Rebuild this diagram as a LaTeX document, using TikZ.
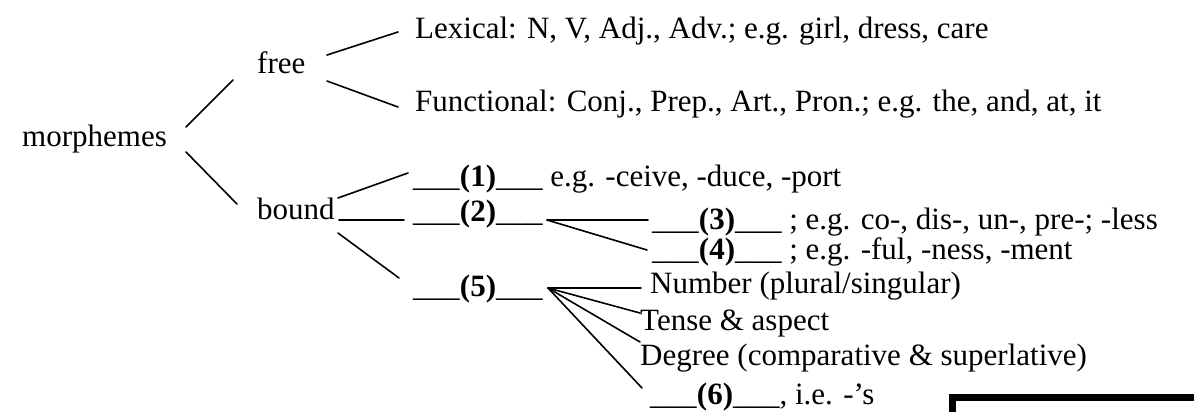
\documentclass[tikz,border=0pt]{standalone}
\usepackage{fontspec}
\setmainfont{Liberation Serif}
\begin{document}
\begin{tikzpicture}[x=1bp,y=-1bp,
  lbl/.style={anchor=base west, inner sep=0pt, font=\fontsize{31bp}{36bp}\selectfont},
  conn/.style={line width=1.6bp, line cap=round},
  frame/.style={line width=7bp}]
\useasboundingbox (0,0) rectangle (1194,412);
% text nodes
\node[lbl] (morph) at (22,146) {morphemes};
\node[lbl] (free) at (257,73) {free};
\node[lbl] (bound) at (257,219) {bound};
\node[lbl] (lex) at (415,38) {Lexical: N, V, Adj., Adv.; e.g. girl, dress, care};
\node[lbl] (fun) at (415,111) {Functional: Conj., Prep., Art., Pron.; e.g. the, and, at, it};
\node[lbl] (n1) at (413,186) {\_\_\_\textbf{(1)}\_\_\_ e.g. -ceive, -duce, -port};
\node[lbl] (n2) at (413,221) {\_\_\_\textbf{(2)}\_\_\_};
\node[lbl] (n3) at (652,229) {\_\_\_\textbf{(3)}\_\_\_ ; e.g. co-, dis-, un-, pre-; -less};
\node[lbl] (n4) at (652,259) {\_\_\_\textbf{(4)}\_\_\_ ; e.g. -ful, -ness, -ment};
\node[lbl] (n5) at (413,296) {\_\_\_\textbf{(5)}\_\_\_};
\node[lbl] (num) at (650,293) {Number (plural/singular)};
\node[lbl] (tense) at (640,330) {Tense \& aspect};
\node[lbl] (deg) at (640,365) {Degree (comparative \& superlative)};
\node[lbl] (n6) at (650,404) {\_\_\_\textbf{(6)}\_\_\_, i.e. -’s};
% connector end points
\coordinate (mA) at (186,127); \coordinate (fL) at (233,80);
\coordinate (mB) at (186,152); \coordinate (bL) at (237,204);
\coordinate (fA) at (327,55);  \coordinate (lexL) at (398,32);
\coordinate (fB) at (327,81);  \coordinate (funL) at (398,107);
\coordinate (bA) at (338,198); \coordinate (n1L) at (408,173);
\coordinate (bB) at (339,220); \coordinate (n2L) at (404,220);
\coordinate (bC) at (338,233); \coordinate (n5L) at (399,278);
\coordinate (n2R) at (547,220);
\coordinate (n3L) at (648,220); \coordinate (n4L) at (647,250);
\coordinate (n5R) at (548,288);
\coordinate (numL) at (641,288); \coordinate (tenseL) at (640,313);
\coordinate (degL) at (640,342); \coordinate (n6L) at (642,388);
% connectors
\draw[conn] (mA) -- (fL);
\draw[conn] (mB) -- (bL);
\draw[conn] (fA) -- (lexL);
\draw[conn] (fB) -- (funL);
\draw[conn] (bA) -- (n1L);
\draw[conn] (bB) -- (n2L);
\draw[conn] (bC) -- (n5L);
\draw[conn] (n2R) -- (n3L);
\draw[conn] (n2R) -- (n4L);
\draw[conn] (n5R) -- (numL);
\draw[conn] (n5R) -- (tenseL);
\draw[conn] (n5R) -- (degL);
\draw[conn] (n5R) -- (n6L);
% partial frame at bottom right
\coordinate (frA) at (952.5,412); \coordinate (frB) at (952.5,397); \coordinate (frC) at (1194,397);
\draw[frame] (frA) -- (frB) -- (frC);
\end{tikzpicture}
\end{document}
